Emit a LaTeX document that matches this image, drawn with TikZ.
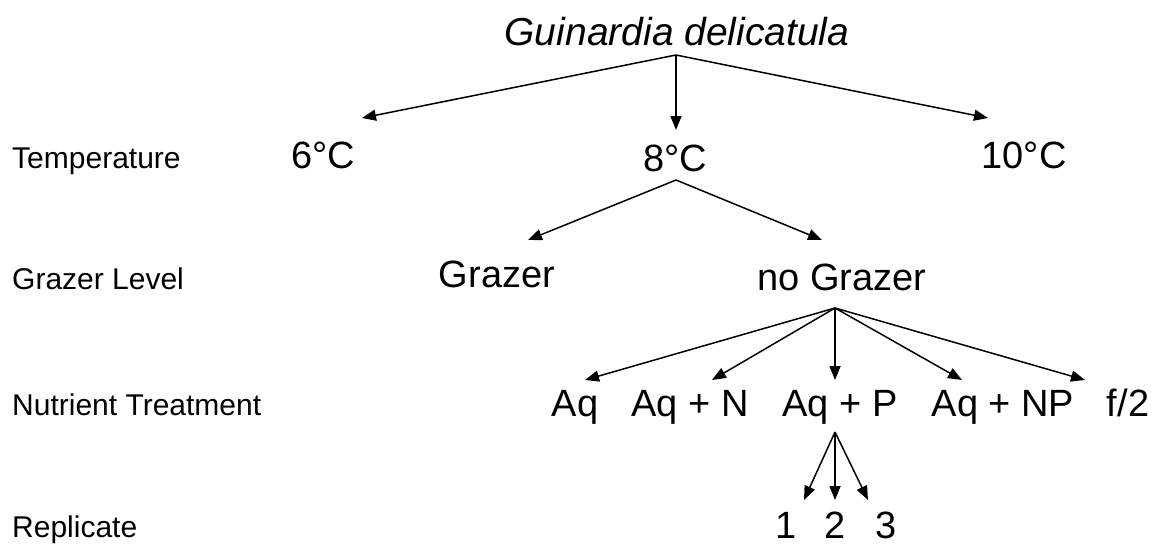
\documentclass[tikz,border=0pt]{standalone}
\usepackage{fontspec}
\setmainfont{Liberation Sans}
\usetikzlibrary{arrows.meta}
\tikzset{
  lab/.style={anchor=base west, inner sep=0pt, font=\fontsize{30}{36}\selectfont},
  val/.style={anchor=base, inner sep=0pt, font=\fontsize{38}{46}\selectfont},
  ttl/.style={anchor=base, inner sep=0pt, font=\fontsize{39}{47}\selectfont\itshape},
  arr/.style={line width=1.5pt, -{Triangle[length=14pt,width=11pt]}}
}
\begin{document}
\begin{tikzpicture}[x=1pt,y=-1pt]
\useasboundingbox (0,0) rectangle (1161,544);
% title
\node[ttl] (title) at (677,45) {Guinardia delicatula};
% row labels
\node[lab] (lT) at (12,168) {Temperature};
\node[lab] (lG) at (12,289) {Grazer Level};
\node[lab] (lN) at (12,415) {Nutrient Treatment};
\node[lab] (lR) at (12,537) {Replicate};
% temperature
\node[val] (t6) at (323,168) {6°C};
\node[val] (t8) at (675,171) {8°C};
\node[val] (t10) at (1024,168) {10°C};
% grazer
\node[val] (g1) at (497,287) {Grazer};
\node[val] (g0) at (842,290) {no Grazer};
% nutrients
\node[val] (n1) at (575,416) {Aq};
\node[val] (n2) at (690,416) {Aq + N};
\node[val] (n3) at (840,416) {Aq + P};
\node[val] (n4) at (1003,416) {Aq + NP};
\node[val] (n5) at (1128,416) {f/2};
% replicates
\node[val] (r1) at (786,538) {1};
\node[val] (r2) at (835,538) {2};
\node[val] (r3) at (886,538) {3};
% hubs
\coordinate (h0) at (676,55);
\coordinate (h1) at (676,180);
\coordinate (h2) at (835,308);
\coordinate (h3) at (835,432);
% arrow tips
\coordinate (e6) at (362,118);
\coordinate (e8) at (676,130);
\coordinate (e10) at (988,118);
\coordinate (eg1) at (528,240);
\coordinate (eg0) at (822,240);
\coordinate (en1) at (585,380);
\coordinate (en2) at (712,380);
\coordinate (en3) at (835,380);
\coordinate (en4) at (962,380);
\coordinate (en5) at (1085,380);
\coordinate (er1) at (804,500);
\coordinate (er2) at (835,500);
\coordinate (er3) at (868,500);
\foreach \e in {e6,e8,e10} \draw[arr] (h0) -- (\e);
\foreach \e in {eg1,eg0} \draw[arr] (h1) -- (\e);
\foreach \e in {en1,en2,en3,en4,en5} \draw[arr] (h2) -- (\e);
\foreach \e in {er1,er2,er3} \draw[arr] (h3) -- (\e);
\end{tikzpicture}
\end{document}
